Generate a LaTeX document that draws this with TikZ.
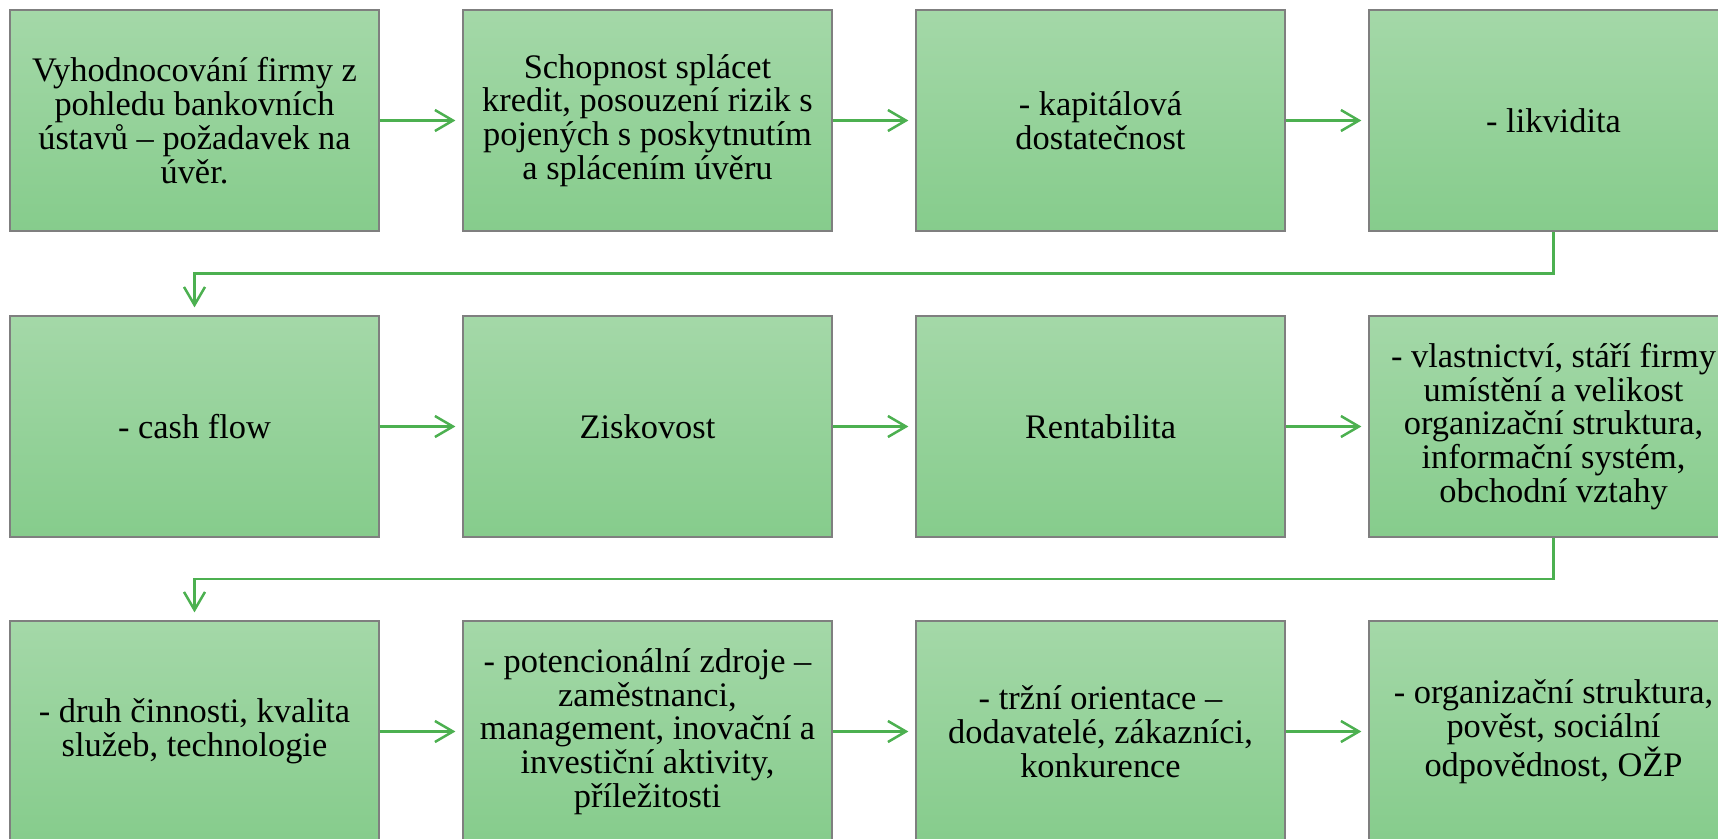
\documentclass[tikz,border=0pt]{standalone}
\usepackage{fontspec}
\setmainfont{Liberation Serif}
\usepackage{tikz}
\usetikzlibrary{arrows.meta, calc}

\definecolor{boxtop}{HTML}{A4D8A8}
\definecolor{boxbottom}{HTML}{86CC8C}
\definecolor{boxline}{HTML}{7F7F7F}
\definecolor{flowgreen}{HTML}{4CB050}

\begin{document}
\begin{tikzpicture}[x=0.5pt, y=-0.5pt,
    box/.style={draw=boxline, line width=0.6pt, top color=boxtop, bottom color=boxbottom,
        minimum width=184.5pt, minimum height=110.5pt, inner sep=0pt, align=center,
        font=\fontsize{17.2}{16.9}\selectfont},
    flow/.style={draw=flowgreen, line width=1.25pt, -{Straight Barb[length=9pt, width=10.5pt]}}]

            \useasboundingbox (0,0) rectangle (1718,839);
            \clip (0,0) rectangle (1718,839);

            % First row
            \node[box] (r1c1) at (194.5,120.5) {Vyhodnocování firmy z\\pohledu bankovních\\ústavů – požadavek na\\úvěr.};
            \node[box] (r1c2) at (647.5,120.5) {Schopnost splácet\\kredit, posouzení rizik s\\pojených s poskytnutím\\a splácením úvěru};
            \node[box] (r1c3) at (1100.5,120.5) {- kapitálová\\dostatečnost};
            \node[box] (r1c4) at (1553.5,120.5) {- likvidita};

            % Second row
            \node[box] (r2c1) at (194.5,426.5) {- cash flow};
            \node[box] (r2c2) at (647.5,426.5) {Ziskovost};
            \node[box] (r2c3) at (1100.5,426.5) {Rentabilita};
            \node[box] (r2c4) at (1553.5,426.5) {- vlastnictví, stáří firmy\\umístění a velikost\\organizační struktura,\\informační systém,\\obchodní vztahy};

            % Third row
            \node[box] (r3c1) at (194.5,731.5) {- druh činnosti, kvalita\\služeb, technologie};
            \node[box] (r3c2) at (647.5,731.5) {- potencionální zdroje –\\zaměstnanci,\\management, inovační a\\investiční aktivity,\\příležitosti};
            \node[box] (r3c3) at (1100.5,731.5) {- tržní orientace –\\dodavatelé, zákazníci,\\konkurence};
            \node[box] (r3c4) at (1553.5,731.5) {- organizační struktura,\\pověst, sociální\\odpovědnost, OŽP};

            % Arrows inside the rows
            \draw[flow, shorten >=3.5pt] (r1c1) -- (r1c2);
            \draw[flow, shorten >=3.5pt] (r1c2) -- (r1c3);
            \draw[flow, shorten >=3.5pt] (r1c3) -- (r1c4);
            \draw[flow, shorten >=3.5pt] (r2c1) -- (r2c2);
            \draw[flow, shorten >=3.5pt] (r2c2) -- (r2c3);
            \draw[flow, shorten >=3.5pt] (r2c3) -- (r2c4);
            \draw[flow, shorten >=3.5pt] (r3c1) -- (r3c2);
            \draw[flow, shorten >=3.5pt] (r3c2) -- (r3c3);
            \draw[flow, shorten >=3.5pt] (r3c3) -- (r3c4);

            % Turning back to the next row
            \draw[flow, shorten >=4pt] (r1c4.south) -- ($(r1c4.south)!0.5!(r2c4.north)$) -| (r2c1.north);
            \draw[flow, shorten >=4pt] (r2c4.south) -- ($(r2c4.south)!0.5!(r3c4.north)$) -| (r3c1.north);

        \end{tikzpicture}
\end{document}
